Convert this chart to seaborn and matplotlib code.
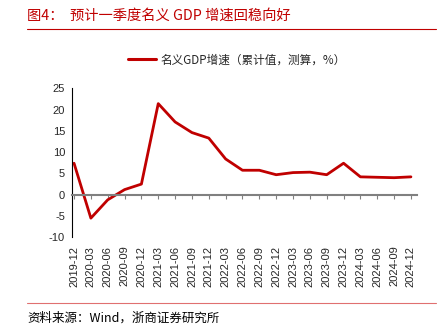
import matplotlib
matplotlib.use("Agg")
import matplotlib.pyplot as plt
import seaborn as sns
import pandas as pd
from matplotlib.lines import Line2D

quarters = ["2019-12", "2020-03", "2020-06", "2020-09", "2020-12", "2021-03", "2021-06",
            "2021-09", "2021-12", "2022-03", "2022-06", "2022-09", "2022-12", "2023-03",
            "2023-06", "2023-09", "2023-12", "2024-03", "2024-06", "2024-09", "2024-12"]
gdp_growth = [7.4, -5.5, -1.2, 1.2, 2.5, 21.4, 17.1, 14.6, 13.3, 8.4, 5.75, 5.75, 4.7,
              5.2, 5.3, 4.7, 7.4, 4.2, 4.1, 4.0, 4.2]
y_ticks = [-10, -5, 0, 5, 10, 15, 20, 25]

title_text = "图4：  预计一季度名义 GDP 增速回稳向好"
legend_text = "名义GDP增速（累计值，测算，%）"
source_text = "资料来源：Wind，浙商证券研究所"

sns.set_theme(style="white")
plt.rcParams['font.family'] = ['Liberation Sans', 'Noto Sans CJK SC', 'DejaVu Sans']

RED = "#C00000"
df = pd.DataFrame({"q": quarters, "v": gdp_growth, "i": range(len(quarters))})

fig = plt.figure(figsize=(4.42, 3.32), dpi=100)
ax = fig.add_axes([72/442, (332-237.3)/332, (417-72)/442, (237.3-88.3)/332])

sns.lineplot(data=df, x="i", y="v", ax=ax, color=RED, linewidth=2.0, legend=False)

ax.set_xlim(-0.12, 20.36)
ax.set_ylim(-10, 25)
ax.set_yticks(y_ticks)
ax.set_yticklabels([str(t) for t in y_ticks], fontsize=8, family=['Liberation Sans'])
ax.set_xlabel("")
ax.set_ylabel("")

for s in ["top", "right"]:
    ax.spines[s].set_visible(False)
ax.spines["left"].set_color("#000000")
ax.spines["left"].set_linewidth(0.8)
ax.spines["bottom"].set_position(("data", 0))
ax.spines["bottom"].set_color("#808080")
ax.spines["bottom"].set_linewidth(1.5)
ax.tick_params(axis="y", direction="out", length=3, width=0.8, color="#000000", pad=2)
ax.set_xticks(range(len(quarters)))
ax.set_xticklabels([])
ax.tick_params(axis="x", direction="out", length=3, width=0.8, color="#808080", bottom=True)

sec = ax.secondary_xaxis(location=0)
sec.set_xticks(range(len(quarters)))
sec.set_xticklabels(quarters, rotation=90, fontsize=8, family=['Liberation Sans'])
sec.tick_params(axis="x", length=0, pad=6)
sec.spines["bottom"].set_visible(False)

ax.set_zorder(2)

# legend
handle = Line2D([], [], color=RED, linewidth=2.2)
fig.legend([handle], [legend_text], loc="center", bbox_to_anchor=(0.535, (332-60)/332),
           frameon=False, handlelength=2.4, handletextpad=0.4,
           prop={'family': ['Noto Sans CJK SC'], 'size': 8.4})

# title & separators
fig.text(27/442, (332-16)/332, title_text, color=RED, fontsize=10.3,
         family=['Noto Sans CJK SC'], va="center", ha="left")
fig.add_artist(Line2D([27/442, 436/442], [(332-29)/332]*2, color=RED, linewidth=0.8))
fig.add_artist(Line2D([27/442, 436/442], [(332-303)/332]*2, color="#E07070", linewidth=0.8))
fig.text(27/442, (332-318)/332, source_text, color="#000000", fontsize=9,
         family=['Noto Sans CJK SC'], va="center", ha="left")

fig.savefig("out.png", dpi=100)
